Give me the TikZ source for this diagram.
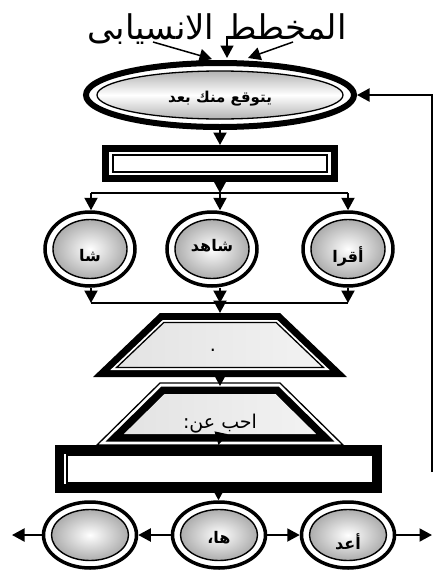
\documentclass[tikz,border=0pt]{standalone}
\usepackage{fontspec}
\usetikzlibrary{shapes.geometric,arrows.meta}
\newfontfamily\arb[Script=Arabic]{DejaVu Sans}
\TeXXeTstate=1
\begin{document}
\begin{tikzpicture}[x=1pt,y=-1pt,
  conn/.style={line width=2pt,-{Triangle[length=12.5pt,width=13pt]}},
  bar/.style={line width=2.5pt},
  outerell/.style={ellipse,draw,line width=3.5pt,fill=white,inner sep=0pt,minimum width=90pt,minimum height=74pt},
  innerell/.style={ellipse,draw,line width=1.4pt,inner sep=0pt,inner color=white,outer color=gray!65,minimum width=74pt,minimum height=59pt},
  outerrect/.style={rectangle,draw,fill=white,inner sep=0pt},
  innerrect/.style={rectangle,draw,line width=1.5pt,fill=white,inner sep=0pt},
  lbl/.style={font=\arb\bfseries\fontsize{16}{18}\selectfont,inner sep=0pt},
  traptext/.style={font=\arb\fontsize{19}{22}\selectfont,inner sep=0pt}
]
\useasboundingbox (0,0) rectangle (435,570);

% title
\node[font=\arb\fontsize{34}{38}\selectfont,inner sep=0pt] (title) at (217,29) {\beginR المخطط الانسيابى\endR};

% top ellipse
\node[ellipse,draw,line width=6pt,fill=white,inner sep=0pt,minimum width=268pt,minimum height=64pt] (e1) at (220,95) {};
\node[ellipse,draw,line width=1.3pt,inner sep=0pt,minimum width=246pt,minimum height=48pt,top color=gray!60,bottom color=gray!60,middle color=white] (e1i) at (220,95) {};
\node[font=\arb\bfseries\fontsize{15}{17}\selectfont,inner sep=0pt] (e1t) at (220,99) {\beginR يتوقع منك بعد\endR};

% arrows from title
\coordinate (a1s) at (153,42); \coordinate (a1e) at (212,59);
\coordinate (a2s) at (227,36); \coordinate (a2e) at (227,58);
\coordinate (a3s) at (293,42); \coordinate (a3e) at (248,58);
\draw[conn,line width=1.5pt] (a1s) -- (a1e);
\draw[conn,line width=1.5pt] (a2s) -- (a2e);
\draw[conn,line width=1.5pt] (a3s) -- (a3e);

% feedback line
\coordinate (fb1) at (432,472);
\draw[conn] (fb1) -- (fb1 |- e1.east) -- (e1.east);

% first rectangle
\node[outerrect,line width=7pt,minimum width=229pt,minimum height=30pt] (r1) at (220,163.5) {};
\node[innerrect,minimum width=214pt,minimum height=17pt] (r1i) at (220,163.5) {};
\draw[conn] (e1.south) -- (r1.north);

% split
\coordinate (jl) at (91,193); \coordinate (jm) at (220,193); \coordinate (jr) at (348,193);
\draw[conn] (r1.south) -- (jm);
\draw[bar] (jl) -- (jr);

% three circles
\node[outerell] (c1) at (90,249) {};
\node[innerell] (c1i) at (90,249) {};
\node[outerell] (c2) at (212,249) {};
\node[innerell] (c2i) at (212,249) {};
\node[outerell] (c3) at (348,249) {};
\node[innerell] (c3i) at (348,249) {};
\node[lbl] (c1t) at (90,256) {\beginR شا\endR};
\node[lbl] (c2t) at (212,246) {\beginR شاهد\endR};
\node[lbl] (c3t) at (348,257) {\beginR أقرا\endR};
\draw[conn] (jl) -- (jl |- c1.north);
\draw[conn] (jm) -- (jm |- c2.north);
\draw[conn] (jr) -- (jr |- c3.north);

% merge
\coordinate (kl) at (91,303); \coordinate (km) at (220,303); \coordinate (kr) at (348,303);
\draw[conn] (kl |- c1.south) -- (kl);
\draw[conn] (km |- c2.south) -- (km);
\draw[conn] (kr |- c3.south) -- (kr);
\draw[bar] (kl) -- (kr);

% trapezoid 1 (thick outside, thin inside)
\fill[black] (160,313) -- (280,313) -- (347,377) -- (93,377) -- cycle;
\fill[white] (162.8,320) -- (277.2,320) -- (329.6,370) -- (110.4,370) -- cycle;
\draw[line width=1.3pt,left color=gray!22,right color=gray!10] (163.8,322.5) -- (276.2,322.5) -- (323.4,367.5) -- (116.6,367.5) -- cycle;
\coordinate (t1top) at (220,313);
\coordinate (t1bot) at (220,371);
\node[traptext] (t1t) at (213,350) {.};
\draw[conn] (km) -- (t1top);

% trapezoid 2 (thin outside, thick inside)
\draw[line width=1.3pt,fill=white] (160,383) -- (280,383) -- (343,445) -- (97,445) -- cycle;
\fill[black] (161.4,386.5) -- (278.6,386.5) -- (334.4,441.5) -- (105.6,441.5) -- cycle;
\fill[left color=gray!22,right color=gray!10] (164.5,394) -- (275.5,394) -- (316.1,434) -- (123.9,434) -- cycle;
\coordinate (t2top) at (220,386);
\coordinate (t2bot) at (220,438);
\node[traptext] (t2t) at (220,424) {\beginR احب عن:\endR};
\draw[conn] (t1bot) -- (t2top);

% second rectangle
\node[outerrect,line width=9pt,minimum width=318pt,minimum height=39pt] (r2) at (218.5,469) {};
\node[innerrect,minimum width=306pt,minimum height=28pt] (r2i) at (220,469) {};
\draw[conn] (t2bot) -- (r2.north);

% bottom circles
\node[outerell,minimum width=93pt,minimum height=66pt] (b1) at (90,535) {};
\node[innerell,minimum width=77pt,minimum height=51pt] (b1i) at (90,535) {};
\node[outerell,minimum width=93pt,minimum height=66pt] (b2) at (219,535) {};
\node[innerell,minimum width=77pt,minimum height=51pt] (b2i) at (219,535) {};
\node[outerell,minimum width=93pt,minimum height=66pt] (b3) at (348,535) {};
\node[innerell,minimum width=77pt,minimum height=51pt] (b3i) at (348,535) {};
\node[lbl] (b2t) at (219,538) {\beginR ها،\endR};
\node[lbl] (b3t) at (348,542) {\beginR أعد\endR};
\draw[conn] (r2.south) -- (r2.south |- b2.north);

\coordinate (lft) at (12,535);
\coordinate (rgt) at (432,535);
\draw[conn] (b1.west) -- (lft);
\draw[conn] (b2.west) -- (b1.east);
\draw[conn] (b2.east) -- (b3.west);
\draw[conn] (b3.east) -- (rgt);
\end{tikzpicture}
\end{document}
